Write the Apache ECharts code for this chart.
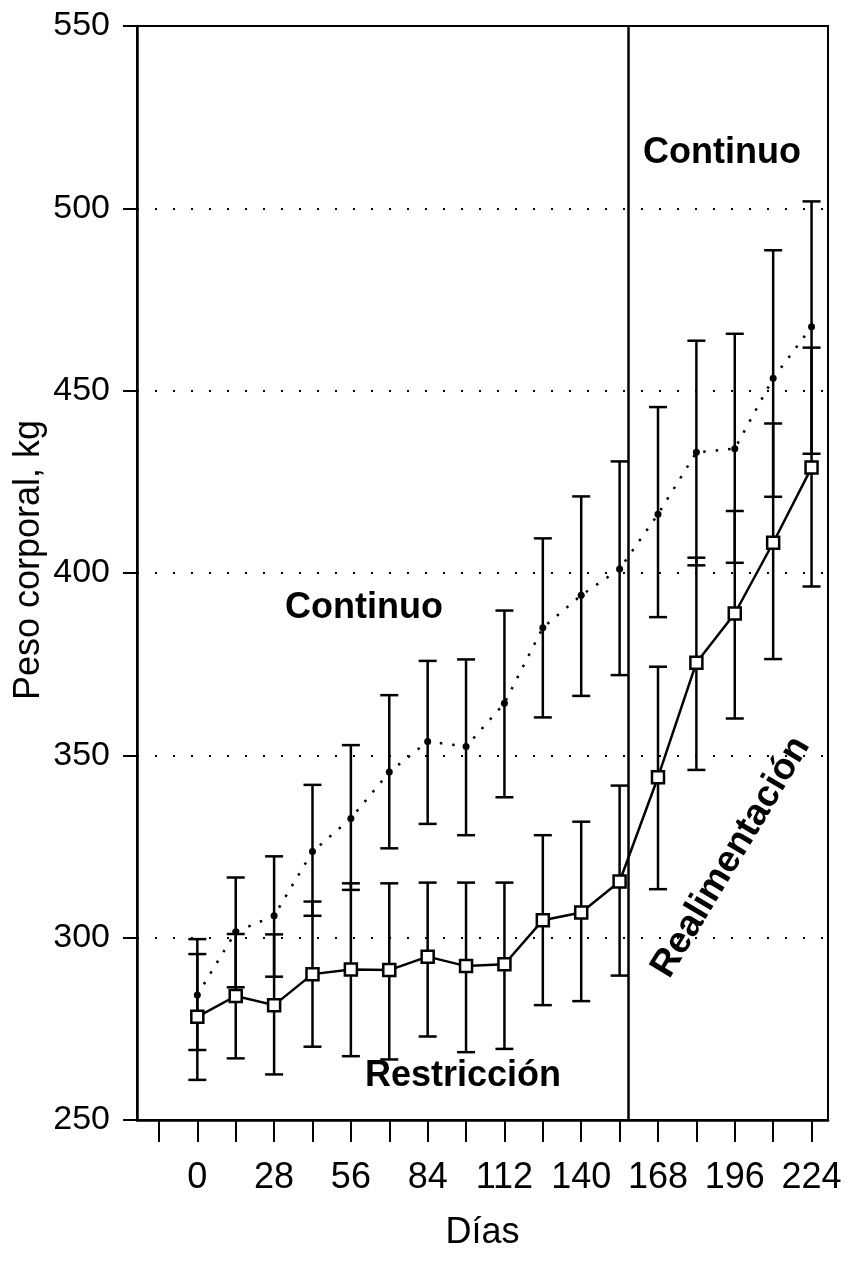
<!DOCTYPE html>
<html>
<head>
<meta charset="utf-8">
<script src="https://cdn.jsdelivr.net/npm/echarts@6/dist/echarts.min.js"></script>
<style>
  html, body { margin: 0; padding: 0; background: #fff; }
  #chart { width: 845px; height: 1271px; }
</style>
</head>
<body>
<div id="chart"></div>
<script>
// dias de muestreo
var days = [0, 14, 28, 42, 56, 70, 84, 98, 112, 126, 140, 154, 168, 182, 196, 210, 224];

// Restriccion / realimentacion (cuadrados, linea continua)
var restMean = [278.3, 284.0, 281.5, 290.0, 291.3, 291.1, 294.8, 292.2, 292.7, 304.8, 306.9, 315.4, 344.0, 375.4, 388.9, 408.3, 428.9];
var restLow  = [261.0, 266.9, 262.5, 270.1, 267.5, 266.6, 272.9, 268.6, 269.5, 281.5, 282.6, 289.6, 313.3, 346.0, 360.1, 376.4, 396.3];
var restHigh = [299.6, 301.0, 300.9, 309.9, 314.9, 314.9, 315.1, 315.1, 315.1, 328.1, 331.8, 341.7, 374.3, 404.2, 417.0, 441.0, 461.8];

// Continuo (puntos, linea punteada)
var contMean = [284.3, 301.6, 306.0, 323.6, 332.7, 345.4, 353.8, 352.4, 364.3, 385.0, 393.9, 401.1, 416.1, 433.1, 434.1, 453.4, 467.5];
var contLow  = [269.2, 286.4, 289.3, 306.0, 313.1, 324.5, 331.2, 328.1, 338.5, 360.4, 366.3, 372.0, 387.9, 402.1, 402.8, 420.9, 432.7];
var contHigh = [295.5, 316.5, 322.3, 341.9, 352.8, 366.5, 375.9, 376.3, 389.7, 409.5, 421.0, 430.6, 445.5, 463.7, 465.6, 488.5, 501.9];

var tickDays  = [-14, 0, 14, 28, 42, 56, 70, 84, 98, 112, 126, 140, 154, 168, 182, 196, 210, 224];
var labelDays = [0, 28, 56, 84, 112, 140, 168, 196, 224];
var switchDay = 157;

var FONT = '"Liberation Sans", Arial, Helvetica, sans-serif';

function pairs(ys) { return days.map(function (d, i) { return [d, ys[i]]; }); }
function bars(lo, hi) { return days.map(function (d, i) { return [d, lo[i], hi[i]]; }); }

function errorBar(params, api) {
  var lo = api.coord([api.value(0), api.value(1)]);
  var hi = api.coord([api.value(0), api.value(2)]);
  var w = 9;
  var st = { stroke: '#000', lineWidth: 2.5 };
  return {
    type: 'group',
    children: [
      { type: 'line', shape: { x1: lo[0], y1: lo[1], x2: hi[0], y2: hi[1] }, style: st },
      { type: 'line', shape: { x1: lo[0] - w, y1: lo[1], x2: lo[0] + w, y2: lo[1] }, style: st },
      { type: 'line', shape: { x1: hi[0] - w, y1: hi[1], x2: hi[0] + w, y2: hi[1] }, style: st }
    ]
  };
}

var myChart = echarts.init(document.getElementById('chart'));
var option = {
  backgroundColor: '#fff',
  animation: false,
  textStyle: { fontFamily: FONT, color: '#000' },
  grid: { left: 137, right: 17, top: 26, bottom: 151, show: true, borderColor: '#000', borderWidth: 2 },
  xAxis: {
    type: 'value', min: -22, max: 230,
    name: 'Días', nameLocation: 'middle', nameGap: 95,
    nameTextStyle: { fontSize: 36, color: '#000', fontFamily: FONT },
    axisLine: { onZero: false, lineStyle: { color: '#000', width: 2.5 } },
    axisTick: { customValues: tickDays, length: 22, lineStyle: { color: '#000', width: 2 } },
    axisLabel: { customValues: labelDays, fontSize: 36, color: '#000', margin: 40, fontFamily: FONT },
    splitLine: { show: false }
  },
  yAxis: {
    type: 'value', min: 250, max: 550, interval: 50,
    axisLine: { show: true, onZero: false, lineStyle: { color: '#000', width: 2.5 } },
    axisTick: { show: true, length: 14, lineStyle: { color: '#000', width: 2 } },
    axisLabel: { fontSize: 34, color: '#000', margin: 27, fontFamily: FONT },
    splitLine: { show: true, lineStyle: { color: '#000', width: 2, type: [2, 16] } }
  },
  graphic: [
    { type: 'text', x: 29, y: 560, rotation: Math.PI / 2,
      style: { text: 'Peso corporal, kg', font: '36px ' + FONT, fill: '#000', align: 'center', verticalAlign: 'middle' } },
    { type: 'text', x: 364, y: 608,
      style: { text: 'Continuo', font: 'bold 36px ' + FONT, fill: '#000', align: 'center', verticalAlign: 'middle' } },
    { type: 'text', x: 722, y: 153,
      style: { text: 'Continuo', font: 'bold 36px ' + FONT, fill: '#000', align: 'center', verticalAlign: 'middle' } },
    { type: 'text', x: 463, y: 1076,
      style: { text: 'Restricción', font: 'bold 36px ' + FONT, fill: '#000', align: 'center', verticalAlign: 'middle' } },
    { type: 'text', x: 731, y: 857, rotation: 59 * Math.PI / 180,
      style: { text: 'Realimentación', font: 'bold 37px ' + FONT, fill: '#000', align: 'center', verticalAlign: 'middle' } }
  ],
  series: [
    { name: 'barsCont', type: 'custom', renderItem: errorBar, data: bars(contLow, contHigh), z: 2, silent: true },
    { name: 'barsRest', type: 'custom', renderItem: errorBar, data: bars(restLow, restHigh), z: 2, silent: true },
    {
      name: 'Continuo', type: 'line', data: pairs(contMean), z: 3,
      symbol: 'circle', symbolSize: 7, showAllSymbol: true,
      itemStyle: { color: '#000' },
      lineStyle: { color: '#000', width: 2.5, type: [2.5, 10] }
    },
    {
      name: 'Restricción', type: 'line', data: pairs(restMean), z: 4,
      symbol: 'rect', symbolSize: 12, showAllSymbol: true,
      itemStyle: { color: '#fff', borderColor: '#000', borderWidth: 2.5 },
      lineStyle: { color: '#000', width: 2.5 },
      markLine: {
        silent: true, symbol: 'none', label: { show: false },
        lineStyle: { color: '#000', width: 2.5, type: 'solid' },
        data: [{ xAxis: switchDay }]
      }
    }
  ]
};
myChart.setOption(option);
</script>
</body>
</html>
